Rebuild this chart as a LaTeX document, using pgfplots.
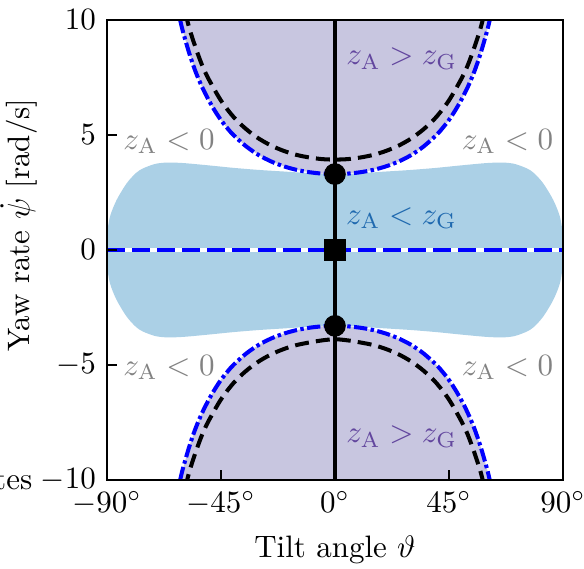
\documentclass[border=0pt]{standalone}
\usepackage{pgfplots}
\pgfplotsset{compat=1.18}
\definecolor{lblue}{RGB}{171,208,230}
\definecolor{lav}{RGB}{200,198,224}
\definecolor{ptext}{RGB}{98,70,158}
\definecolor{btext}{RGB}{31,105,175}
\definecolor{gtext}{RGB}{130,130,130}
\begin{document}
\begin{tikzpicture}
\begin{axis}[
 scale only axis, width=147.1pt, height=148.4pt,
 xmin=-90, xmax=90, ymin=-10, ymax=10,
 xtick={-90,-45,0,45,90}, ytick={-10,-5,0,5,10},
 xticklabel={$\pgfmathprintnumber{\tick}^\circ$},
 tick align=inside, xtick pos=left, ytick pos=left,
 major tick length=3.2pt,
 axis line style={line width=0.8pt},
 tick style={line width=0.4pt, black},
 axis on top,
 xlabel={Tilt angle $\vartheta$},
 ylabel={Yaw rate $\dot{\psi}$ [rad/s]},
 every axis y label/.style={at={(rel axis cs:-0.129,0.554)}, rotate=90, anchor=south},
]
% light blue region
\addplot[fill=lblue, draw=none, smooth, tension=0.5] coordinates {
(-90,0) (-89.9,0.7) (-88.8,1.45) (-86.2,2.17) (-82.2,2.9) (-78.5,3.35) (-75.7,3.55) (-71,3.74) (-66.4,3.80) (-60,3.78) (-50,3.68) (-40,3.57) (-30,3.48) (-20,3.41) (-10,3.34) (0,3.30) (10,3.34) (20,3.41) (30,3.48) (40,3.57) (50,3.68) (60,3.78) (66.4,3.80) (71,3.74) (75.7,3.55) (78.5,3.35) (82.2,2.9) (86.2,2.17) (88.8,1.45) (89.9,0.7) (90,0)
(89.9,-0.7) (88.8,-1.45) (86.2,-2.17) (82.2,-2.9) (78.5,-3.35) (75.7,-3.55) (71,-3.74) (66.4,-3.80) (60,-3.78) (50,-3.68) (40,-3.57) (30,-3.48) (20,-3.41) (10,-3.34) (0,-3.30) (-10,-3.34) (-20,-3.41) (-30,-3.48) (-40,-3.57) (-50,-3.68) (-60,-3.78) (-66.4,-3.80) (-71,-3.74) (-75.7,-3.55) (-78.5,-3.35) (-82.2,-2.9) (-86.2,-2.17) (-88.8,-1.45) (-89.9,-0.7) (-90,0)
};
% purple regions
\addplot[fill=lav, draw=none] coordinates {
(-63,11.0) (-62,10.45) (-61,9.95) (-60,9.5) (-57.5,8.55) (-55,7.75) (-52.5,7.10) (-50,6.55) (-47.5,6.07) (-45,5.65) (-42.5,5.30) (-40,4.99) (-35,4.50) (-30,4.12) (-25,3.84) (-20,3.63) (-15,3.48) (-10,3.38) (-5,3.32) (0,3.30) (5,3.32) (10,3.38) (15,3.48) (20,3.63) (25,3.84) (30,4.12) (35,4.50) (40,4.99) (42.5,5.30) (45,5.65) (47.5,6.07) (50,6.55) (52.5,7.10) (55,7.75) (57.5,8.55) (60,9.5) (61,9.95) (62,10.45) (63,11.0) (63,12) (-63,12)
};
\addplot[fill=lav, draw=none] coordinates {
(-63,-11.0) (-62,-10.45) (-61,-9.95) (-60,-9.5) (-57.5,-8.55) (-55,-7.75) (-52.5,-7.10) (-50,-6.55) (-47.5,-6.07) (-45,-5.65) (-42.5,-5.30) (-40,-4.99) (-35,-4.50) (-30,-4.12) (-25,-3.84) (-20,-3.63) (-15,-3.48) (-10,-3.38) (-5,-3.32) (0,-3.30) (5,-3.32) (10,-3.38) (15,-3.48) (20,-3.63) (25,-3.84) (30,-4.12) (35,-4.50) (40,-4.99) (42.5,-5.30) (45,-5.65) (47.5,-6.07) (50,-6.55) (52.5,-7.10) (55,-7.75) (57.5,-8.55) (60,-9.5) (61,-9.95) (62,-10.45) (63,-11.0) (63,-12) (-63,-12)
};
% horizontal line y = 0
\addplot[white, line width=1.4pt] coordinates {(-90,0) (90,0)};
\addplot[blue, line width=1.4pt, dash pattern=on 5.8pt off 2.3pt] coordinates {(-90,0) (90,0)};
% vertical line
\addplot[black, line width=1.1pt] coordinates {(0,-10) (0,10)};
% black dashed
\addplot[black, line width=1.3pt, dash pattern=on 4.5pt off 2.3pt, smooth] coordinates {
(-61,11.23) (-60,10.74) (-57.5,9.65) (-55,8.80) (-52.5,8.05) (-50,7.46) (-45,6.50) (-40,5.78) (-35,5.25) (-30,4.84) (-25,4.53) (-20,4.30) (-15,4.13) (-10,4.02) (-5,3.95) (0,3.93) (5,3.95) (10,4.02) (15,4.13) (20,4.30) (25,4.53) (30,4.84) (35,5.25) (40,5.78) (45,6.50) (50,7.46) (52.5,8.05) (55,8.80) (57.5,9.65) (60,10.74) (61,11.23)
};
\addplot[black, line width=1.3pt, dash pattern=on 4.5pt off 2.3pt, smooth] coordinates {
(-61,-11.23) (-60,-10.74) (-57.5,-9.65) (-55,-8.80) (-52.5,-8.05) (-50,-7.46) (-45,-6.50) (-40,-5.78) (-35,-5.25) (-30,-4.84) (-25,-4.53) (-20,-4.30) (-15,-4.13) (-10,-4.02) (-5,-3.93) (0,-3.88) (5,-3.93) (10,-4.02) (15,-4.13) (20,-4.30) (25,-4.53) (30,-4.84) (35,-5.25) (40,-5.78) (45,-6.50) (50,-7.46) (52.5,-8.05) (55,-8.80) (57.5,-9.65) (60,-10.74) (61,-11.23)
};
% blue dash-dot
\addplot[blue, line width=1.3pt, dash pattern=on 4.3pt off 1.1pt on 1.1pt off 1.1pt, smooth] coordinates {
(-63,11.0) (-62,10.45) (-61,9.95) (-60,9.5) (-57.5,8.55) (-55,7.75) (-52.5,7.10) (-50,6.55) (-47.5,6.07) (-45,5.65) (-42.5,5.30) (-40,4.99) (-35,4.50) (-30,4.12) (-25,3.84) (-20,3.63) (-15,3.48) (-10,3.38) (-5,3.32) (0,3.30) (5,3.32) (10,3.38) (15,3.48) (20,3.63) (25,3.84) (30,4.12) (35,4.50) (40,4.99) (42.5,5.30) (45,5.65) (47.5,6.07) (50,6.55) (52.5,7.10) (55,7.75) (57.5,8.55) (60,9.5) (61,9.95) (62,10.45) (63,11.0)
};
\addplot[blue, line width=1.3pt, dash pattern=on 4.3pt off 1.1pt on 1.1pt off 1.1pt, smooth] coordinates {
(-63,-11.0) (-62,-10.45) (-61,-9.95) (-60,-9.5) (-57.5,-8.55) (-55,-7.75) (-52.5,-7.10) (-50,-6.55) (-47.5,-6.07) (-45,-5.65) (-42.5,-5.30) (-40,-4.99) (-35,-4.50) (-30,-4.12) (-25,-3.84) (-20,-3.63) (-15,-3.48) (-10,-3.38) (-5,-3.32) (0,-3.30) (5,-3.32) (10,-3.38) (15,-3.48) (20,-3.63) (25,-3.84) (30,-4.12) (35,-4.50) (40,-4.99) (42.5,-5.30) (45,-5.65) (47.5,-6.07) (50,-6.55) (52.5,-7.10) (55,-7.75) (57.5,-8.55) (60,-9.5) (61,-9.95) (62,-10.45) (63,-11.0)
};
% markers
\addplot[only marks, mark=*, mark size=3.3pt, black] coordinates {(0,3.3) (0,-3.3)};
\addplot[only marks, mark=square*, mark size=3.4pt, black] coordinates {(0,0)};
% labels
\node[text=ptext] at (axis cs:26.4,8.33) {$z_\mathrm{A} > z_\mathrm{G}$};
\node[text=ptext] at (axis cs:26.4,-8.12) {$z_\mathrm{A} > z_\mathrm{G}$};
\node[text=btext] at (axis cs:26.3,1.38) {$z_\mathrm{A} < z_\mathrm{G}$};
\node[text=gtext] at (axis cs:-65.5,4.71) {$z_\mathrm{A} < 0$};
\node[text=gtext] at (axis cs:68.1,4.71) {$z_\mathrm{A} < 0$};
\node[text=gtext] at (axis cs:-65.5,-5.11) {$z_\mathrm{A} < 0$};
\node[text=gtext] at (axis cs:68.1,-5.11) {$z_\mathrm{A} < 0$};
\coordinate (sw) at (rel axis cs:0,0);
\coordinate (ne) at (rel axis cs:1,1);
\end{axis}
\node[anchor=base east, inner sep=0pt] at ([shift={(-23.9pt,-3.2pt)}]sw) {tes};
\pgfresetboundingbox
\path ([shift={(-34.5pt,-28.4pt)}]sw) rectangle ([shift={(6.8pt,6.45pt)}]ne);
\end{tikzpicture}
\end{document}
